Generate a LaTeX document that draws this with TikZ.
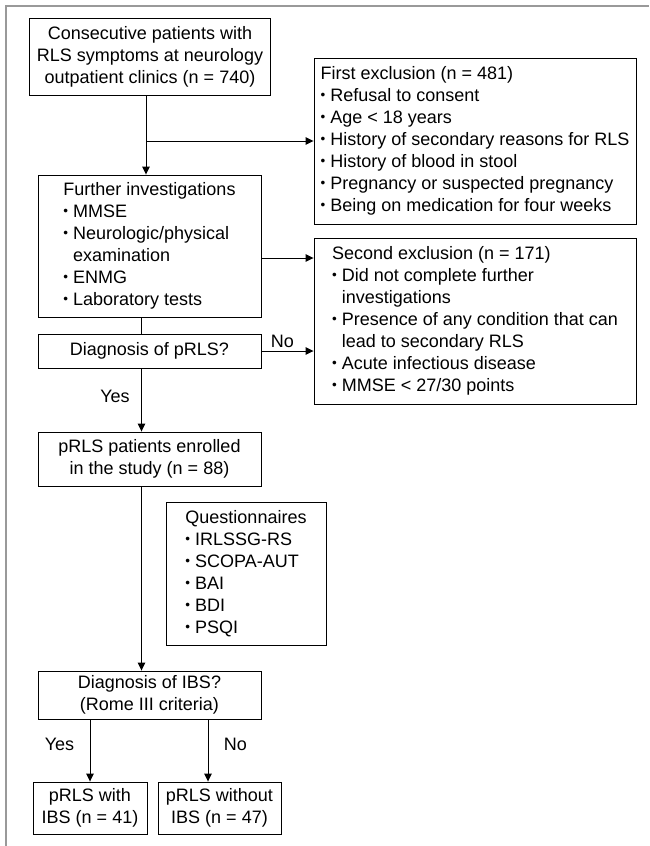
\documentclass[tikz,border=0pt]{standalone}
\usepackage{fontspec}
\setmainfont{Liberation Sans}
\usepackage{tikz}
\usetikzlibrary{arrows.meta}
\newcommand{\bul}{\raisebox{0.12em}{\scalebox{0.75}{•}}\ }
\newcommand{\hang}{\phantom{\bul}}

\begin{document}
\begin{tikzpicture}[x=1pt,y=-1pt,
   box/.style={draw,line width=0.9pt,inner sep=1pt,align=left,font=\fontsize{18}{22}\selectfont},
   lbl/.style={font=\fontsize{18}{22}\selectfont},
   arr/.style={line width=0.9pt,-{Triangle[length=8pt,width=7.5pt]}}]
\useasboundingbox (0,0) rectangle (649,846);
\draw[gray!80,line width=1.2pt] (6,846) -- (6,6) -- (649,6);
\node[box,align=center,minimum width=241pt,minimum height=77pt] (start) at (150,56.5)
  {Consecutive patients with\\RLS symptoms at neurology\\outpatient clinics (n = 740)};
\node[box,minimum width=322pt,minimum height=166pt] (excl1) at (475,141)
  {First exclusion (n = 481)\\\bul Refusal to consent\\\bul Age < 18 years\\\bul History of secondary reasons for RLS\\
   \bul History of blood in stool\\\bul Pregnancy or suspected pregnancy\\\bul Being on medication for four weeks};
\node[box,minimum width=223pt,minimum height=142pt] (further) at (149.5,246)
  {Further investigations\\\bul MMSE\\\bul Neurologic/physical\\\hang examination\\\bul ENMG\\\bul Laboratory tests};
\node[box,minimum width=322pt,minimum height=166pt] (excl2) at (475,321)
  {Second exclusion (n = 171)\\\bul Did not complete further\\\hang investigations\\\bul Presence of any condition that can\\
   \hang lead to secondary RLS\\\bul Acute infectious disease\\\bul MMSE < 27/30 points};
\node[box,align=center,minimum width=223pt,minimum height=34pt] (diagrls) at (149.5,351) {Diagnosis of pRLS?};
\node[box,align=center,minimum width=223pt,minimum height=54pt] (enrolled) at (149.5,459)
  {pRLS patients enrolled\\in the study (n = 88)};
\node[box,minimum width=160pt,minimum height=143pt] (quest) at (246,573.5)
  {Questionnaires\\\bul IRLSSG-RS\\\bul SCOPA-AUT\\\bul BAI\\\bul BDI\\\bul PSQI};
\node[box,align=center,minimum width=223pt,minimum height=48pt] (diagibs) at (149.5,695)
  {Diagnosis of IBS?\\(Rome III criteria)};
\node[box,align=center,minimum width=114pt,minimum height=52pt] (withibs) at (90,808)
  {pRLS with\\IBS (n = 41)};
\node[box,align=center,minimum width=123pt,minimum height=52pt] (noibs) at (219.5,808)
  {pRLS without\\IBS (n = 47)};
% connectors
\coordinate (split) at ([xshift=-4pt]start.south |- excl1.west);
\draw[arr] ([xshift=-4pt]start.south) -- ([xshift=-4pt]start.south |- further.north);
\draw[arr] (split) -- (excl1.west);
\draw[arr] ([yshift=-12pt]further.east) -- ([yshift=-12pt]further.east -| excl2.west);
\draw[line width=0.9pt] ([xshift=-8pt]further.south) -- ([xshift=-8pt]further.south |- diagrls.north);
\draw[arr] (diagrls.east) -- node[lbl,above,xshift=-5pt]{No} (diagrls.east -| excl2.west);
\draw[arr] ([xshift=-8pt]diagrls.south) -- node[lbl,left=8pt,pos=0.45]{Yes} ([xshift=-8pt]enrolled.north);
\draw[arr] ([xshift=-8pt]enrolled.south) -- ([xshift=-8pt]diagibs.north);
\draw[arr] (withibs.north |- diagibs.south) -- node[lbl,left=12pt,pos=0.4]{Yes} (withibs.north);
\draw[arr] ([xshift=-11.5pt]noibs.north |- diagibs.south) -- node[lbl,right=12pt,pos=0.4]{No} ([xshift=-11.5pt]noibs.north);
\end{tikzpicture}
\end{document}
